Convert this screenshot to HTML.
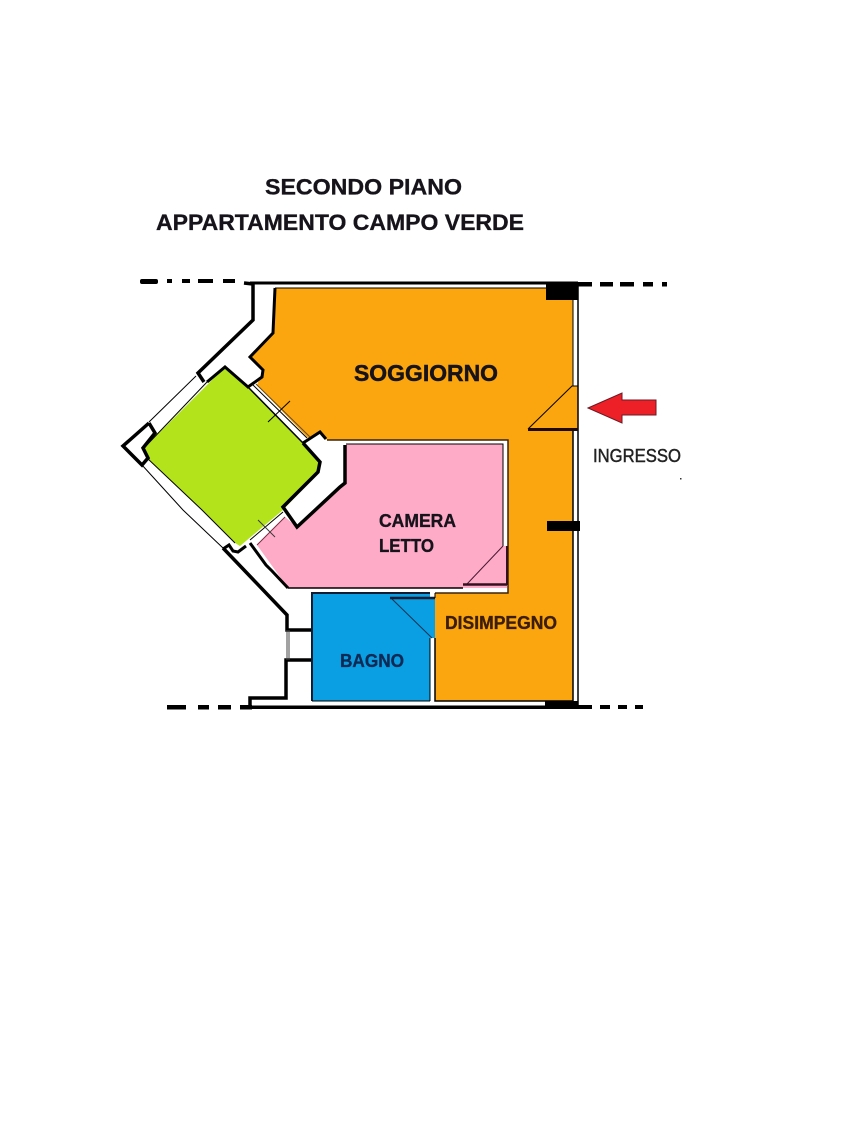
<!DOCTYPE html>
<html>
<head>
<meta charset="utf-8">
<style>
html,body{margin:0;padding:0;background:#fff;width:856px;height:1130px;overflow:hidden}
svg{display:block;filter:blur(.35px)}
text{font-family:"Liberation Sans",sans-serif;font-weight:700;fill:#17131a;stroke:#17131a;stroke-width:.35px}
</style>
</head>
<body>
<svg width="856" height="1130" viewBox="0 0 856 1130" xmlns="http://www.w3.org/2000/svg">
<rect width="856" height="1130" fill="#fff"/>

<!-- Rooms -->
<polygon points="275,288 573,288 573,701 435,701 435,593 508,593 508,440 327,440 320,432 308,438 257,385 263,370 250,357 273,333" fill="#fba60e"/>
<polygon points="572,386 578,386 578,430 528,429" fill="#fba60e"/>
<polygon points="346,444 503,444 503,546 507,546 507,588 288,588 257,545 285,517 297,527 344,483" fill="#feabc8"/>
<polygon points="225,367 248,387 303,443 320,462 319,472 283,510 240,546 235,543 202,510 147,458 144,448" fill="#b2e31b"/>
<polygon points="312,593 430,593 430,598 435,598 435,638 430,638 430,701 312,701" fill="#0a9fe3"/>

<!-- Outer horizontal lines -->
<g fill="#000">
<rect x="250" y="281.500" width="328" height="3"/>
<rect x="250" y="705.500" width="328" height="3.500"/>
<rect x="546" y="283" width="32" height="17"/>
<rect x="547" y="521" width="33" height="10"/>
<rect x="545" y="701" width="33" height="7"/>
<!-- top-left dashes -->
<rect x="140" y="279" width="18" height="5" rx="2"/>
<rect x="167" y="279" width="5" height="4"/>
<rect x="182" y="279" width="8" height="4"/>
<rect x="198" y="279" width="15" height="4"/>
<rect x="223" y="279" width="12" height="4"/>
<!-- top-right dashes -->
<rect x="578" y="282" width="14" height="4.500"/>
<rect x="600" y="282" width="13" height="4.500"/>
<rect x="620" y="282" width="14" height="4.500"/>
<rect x="643" y="282" width="10" height="4.500"/>
<rect x="662" y="282" width="5" height="4.500"/>
<!-- bottom-left dashes -->
<rect x="167" y="705" width="19" height="4.500"/>
<rect x="198" y="705" width="11" height="4.500"/>
<rect x="218" y="705" width="13" height="4.500"/>
<rect x="240" y="705" width="12" height="4.500"/>
<!-- bottom-right dashes -->
<rect x="578" y="705" width="14" height="4"/>
<rect x="600" y="705" width="10" height="4"/>
<rect x="618" y="705" width="9" height="4"/>
<rect x="635" y="705" width="8" height="4"/>
</g>

<!-- Walls thick -->
<g fill="none" stroke="#000" stroke-linejoin="miter" stroke-linecap="butt">
<polyline stroke-width="3" points="275,288 273,333 250,357 263,370 262,377 248,387 225,367 207,382"/>
<polyline stroke-width="3.500" points="244,283 253,284 253,320 198,373 204,382"/>
<polyline stroke-width="3.500" points="149,423 123,446 142,465 148,458 143,448 155,433 149,423"/>
<polyline stroke-width="3.500" points="223,548 287,615 287,630 312,630"/>
<polyline stroke-width="3.500" points="312,660 286,660 286,698 250,698 250,706"/>
<polyline stroke-width="3" points="223,549 229,545 233,551 238,552 246,546"/>
<polyline stroke-width="3" points="250,543 266,565 272,571 288,588"/>
<polyline stroke-width="3.500" points="303,443 320,462 318,472 283,507 297,527 340,487 345,483 345,445"/>
<polyline stroke-width="3" points="303,443 320,432 326,439"/>

<!-- Thin lines -->
<polyline stroke-width="1" points="196,376 149,422"/>
<polyline stroke-width="1" points="142,465 183,510 223,548"/>
<polyline stroke-width="1" points="144,448 147,458 202,510 235,543"/>
<polyline stroke-width="1" points="144,448 207,382"/>
<polyline stroke-width="1.500" points="248,387 303,443"/>
<polyline stroke-width="1" points="253,385 307,438"/>
<polyline stroke-width="1" points="256,384 310,437" stroke="#6b4a10"/>
<line stroke-width="1" x1="268" y1="422" x2="290" y2="401"/>
<line stroke-width="1" x1="250" y1="540" x2="283" y2="512"/>
<line stroke-width="1" x1="257" y1="545" x2="285" y2="517" stroke="#7d2a40"/>
<line stroke-width="1" x1="258" y1="520" x2="275" y2="537" stroke="#3a3a3a"/>

<!-- Room edges -->
<polyline stroke-width="1" points="275,288 573,288 573,386"/>
<polyline stroke-width="1.500" points="573,430 573,701 435,701 435,638"/>
<polyline stroke-width="1.500" points="435,593 508,593 508,440 327,440" stroke="#3a2410"/>
<polyline stroke-width="1" points="346,444 503,444 503,546"/>
<polyline stroke-width="1.500" points="288,588 463,588"/>
<polyline stroke-width="1.500" points="578,283 578,708"/>

<!-- Entrance door -->
<polyline stroke-width="1" points="578,386 572,386 528,429"/>
<line stroke-width="3" x1="528" y1="429.500" x2="578" y2="429.500" stroke="#1d0a08"/>

<!-- Bedroom door -->
<line stroke-width="1" x1="503" y1="546" x2="467" y2="584" stroke="#4b1830"/>
<line stroke-width="2.500" x1="463" y1="584.500" x2="507" y2="584.500" stroke="#33101f"/>
<line stroke-width="2" x1="507" y1="546" x2="507" y2="585" stroke="#33101f"/>

<!-- Bagno -->
<polyline stroke-width="2" stroke="#0d1b33" points="312,701 312,593 430,593"/>
<line stroke-width="1" x1="312" y1="701" x2="430" y2="701"/>
<line stroke-width="1" x1="430" y1="638" x2="430" y2="701"/>
<line stroke-width="2.500" stroke="#0d1b33" x1="390" y1="598" x2="435" y2="598"/>
<line stroke-width="1" stroke="#15304f" x1="392" y1="599" x2="432" y2="638"/>
<line stroke-width="1" x1="435" y1="593" x2="435" y2="598"/>

<!-- Bathroom window -->
<line stroke-width="1" stroke="#444" x1="287" y1="630" x2="287" y2="660"/>
<line stroke-width="1" stroke="#444" x1="289" y1="630" x2="289" y2="660"/>
</g>

<!-- Entrance arrow -->
<polygon points="588,408 622,393 622,400 656,400 656,415 622,415 622,423" fill="#ee2027" stroke="#6a1a25" stroke-width="1"/>

<rect x="680" y="478" width="1.500" height="1.500" fill="#333"/>

<!-- Labels -->
<text x="265" y="194.500" font-size="22.500" textLength="197" lengthAdjust="spacingAndGlyphs">SECONDO PIANO</text>
<text x="156" y="230" font-size="22.500" textLength="368" lengthAdjust="spacingAndGlyphs">APPARTAMENTO CAMPO VERDE</text>
<text x="354" y="381" font-size="23.500" textLength="144" lengthAdjust="spacingAndGlyphs" style="stroke-width:.5px">SOGGIORNO</text>
<text x="379" y="527" font-size="18" textLength="77" lengthAdjust="spacingAndGlyphs">CAMERA</text>
<text x="379" y="552" font-size="18" textLength="55" lengthAdjust="spacingAndGlyphs">LETTO</text>
<text x="340" y="667" font-size="18" textLength="64" lengthAdjust="spacingAndGlyphs" style="fill:#0d2a55;stroke:#0d2a55">BAGNO</text>
<text x="445" y="629" font-size="18" textLength="112" lengthAdjust="spacingAndGlyphs" style="fill:#3b1d08;stroke:#3b1d08">DISIMPEGNO</text>
<text x="593" y="462" font-size="18" textLength="88" lengthAdjust="spacingAndGlyphs" style="fill:#222;stroke:#222;font-weight:400;stroke-width:.45px">INGRESSO</text>
</svg>
</body>
</html>
